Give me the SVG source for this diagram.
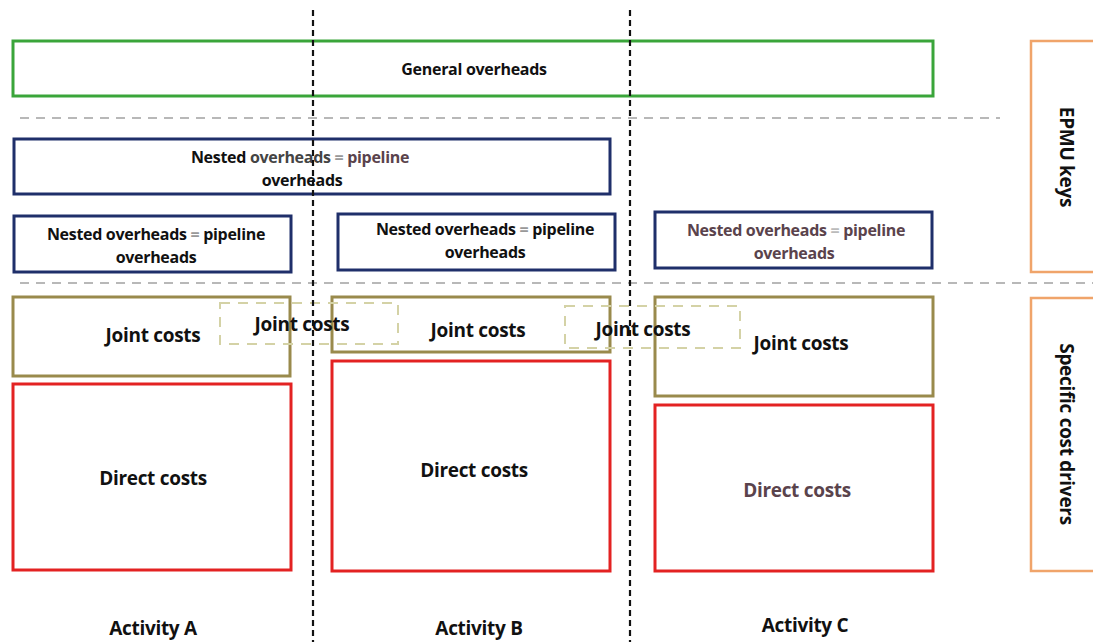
<svg xmlns="http://www.w3.org/2000/svg" width="1093" height="642" viewBox="0 0 1093 642">
<style>
text{font-family:"Open Sans","Liberation Sans",sans-serif;font-weight:bold;text-anchor:middle;fill:#111}
.box{fill:#fff;stroke-width:3}
.green{stroke:#3aa53a}
.navy{stroke:#1f2f6a}
.olive{stroke:#998a4c}
.red{stroke:#e32222}
.orange{stroke:#f0a46a;stroke-width:2.5}
.jd{fill:none;stroke:#d4d2a6;stroke-width:2;stroke-dasharray:10 8}
.sep{stroke:#b8b8b8;stroke-width:2;stroke-dasharray:9 7}
.vd{stroke:#111;stroke-width:2.2;stroke-dasharray:6 4}
.s14{font-size:16px;letter-spacing:-0.3px}
.s17{font-size:19px;letter-spacing:-0.3px}
.pur{fill:#5a434c}
</style>
<rect width="1093" height="642" fill="#fff"/>
<g id="separators">
<line class="sep" x1="20" y1="118" x2="1000" y2="118"/>
<line class="sep" x1="20" y1="283" x2="1093" y2="283"/>
</g>
<g id="general"><rect class="box green" x="13" y="41" width="920" height="55"/><text class="s14" x="474" y="75">General overheads</text></g>
<g id="nested-wide"><rect class="box navy" x="14" y="139" width="596" height="55"/><text class="s14" x="300" y="163">Nested <tspan fill="#444">overheads</tspan> <tspan fill="#999">=</tspan> <tspan class="pur">pipeline</tspan></text><text class="s14" x="302" y="186">overheads</text></g>
<g id="nested-a"><rect class="box navy" x="14" y="216" width="277" height="56"/><text class="s14" x="156" y="240">Nested overheads <tspan fill="#999">=</tspan> pipeline</text><text class="s14" x="156" y="263">overheads</text></g>
<g id="nested-b"><rect class="box navy" x="338" y="214" width="277" height="56"/><text class="s14" x="485" y="235">Nested overheads <tspan fill="#999">=</tspan> pipeline</text><text class="s14" x="485" y="258">overheads</text></g>
<g id="nested-c"><rect class="box navy" x="655" y="212" width="277" height="56"/><text class="s14 pur" x="796" y="236">Nested overheads <tspan fill="#bbb">=</tspan> pipeline</text><text class="s14 pur" x="794" y="259">overheads</text></g>
<g id="joint-a"><rect class="box olive" x="13" y="297" width="277" height="79"/><text class="s17" x="153" y="342">Joint costs</text></g>
<g id="joint-b"><rect class="box olive" x="332" y="297" width="278" height="55"/><text class="s17" x="478" y="337">Joint costs</text></g>
<g id="joint-c"><rect class="box olive" x="655" y="297" width="278" height="99"/><text class="s17" x="801" y="350">Joint costs</text></g>
<g id="joint-shared-ab"><rect class="jd" x="220" y="303" width="178" height="41"/><text class="s17" x="302" y="331">Joint costs</text></g>
<g id="joint-shared-bc"><rect class="jd" x="565" y="306" width="175" height="42"/><text class="s17" x="643" y="336">Joint costs</text></g>
<g id="direct-a"><rect class="box red" x="13" y="384" width="278" height="186"/><text class="s17" x="153" y="485">Direct costs</text></g>
<g id="direct-b"><rect class="box red" x="332" y="361" width="278" height="210"/><text class="s17" x="474" y="477">Direct costs</text></g>
<g id="direct-c"><rect class="box red" x="655" y="405" width="278" height="166"/><text class="s17 pur" x="797" y="497">Direct costs</text></g>
<g id="epmu"><rect class="box orange" x="1031" y="41" width="70" height="231"/><text class="s17" transform="translate(1060 157) rotate(90)">EPMU keys</text></g>
<g id="drivers"><rect class="box orange" x="1031" y="298" width="70" height="273"/><text class="s17" transform="translate(1060 434) rotate(90)">Specific cost drivers</text></g>
<g id="activities">
<text class="s17" x="153" y="635">Activity A</text>
<text class="s17" x="479" y="635">Activity B</text>
<text class="s17" x="805" y="632">Activity C</text>
</g>
<g id="connectors">
<line class="vd" x1="313" y1="10" x2="313" y2="642"/>
<line class="vd" x1="630" y1="10" x2="630" y2="642"/>
</g>
</svg>
